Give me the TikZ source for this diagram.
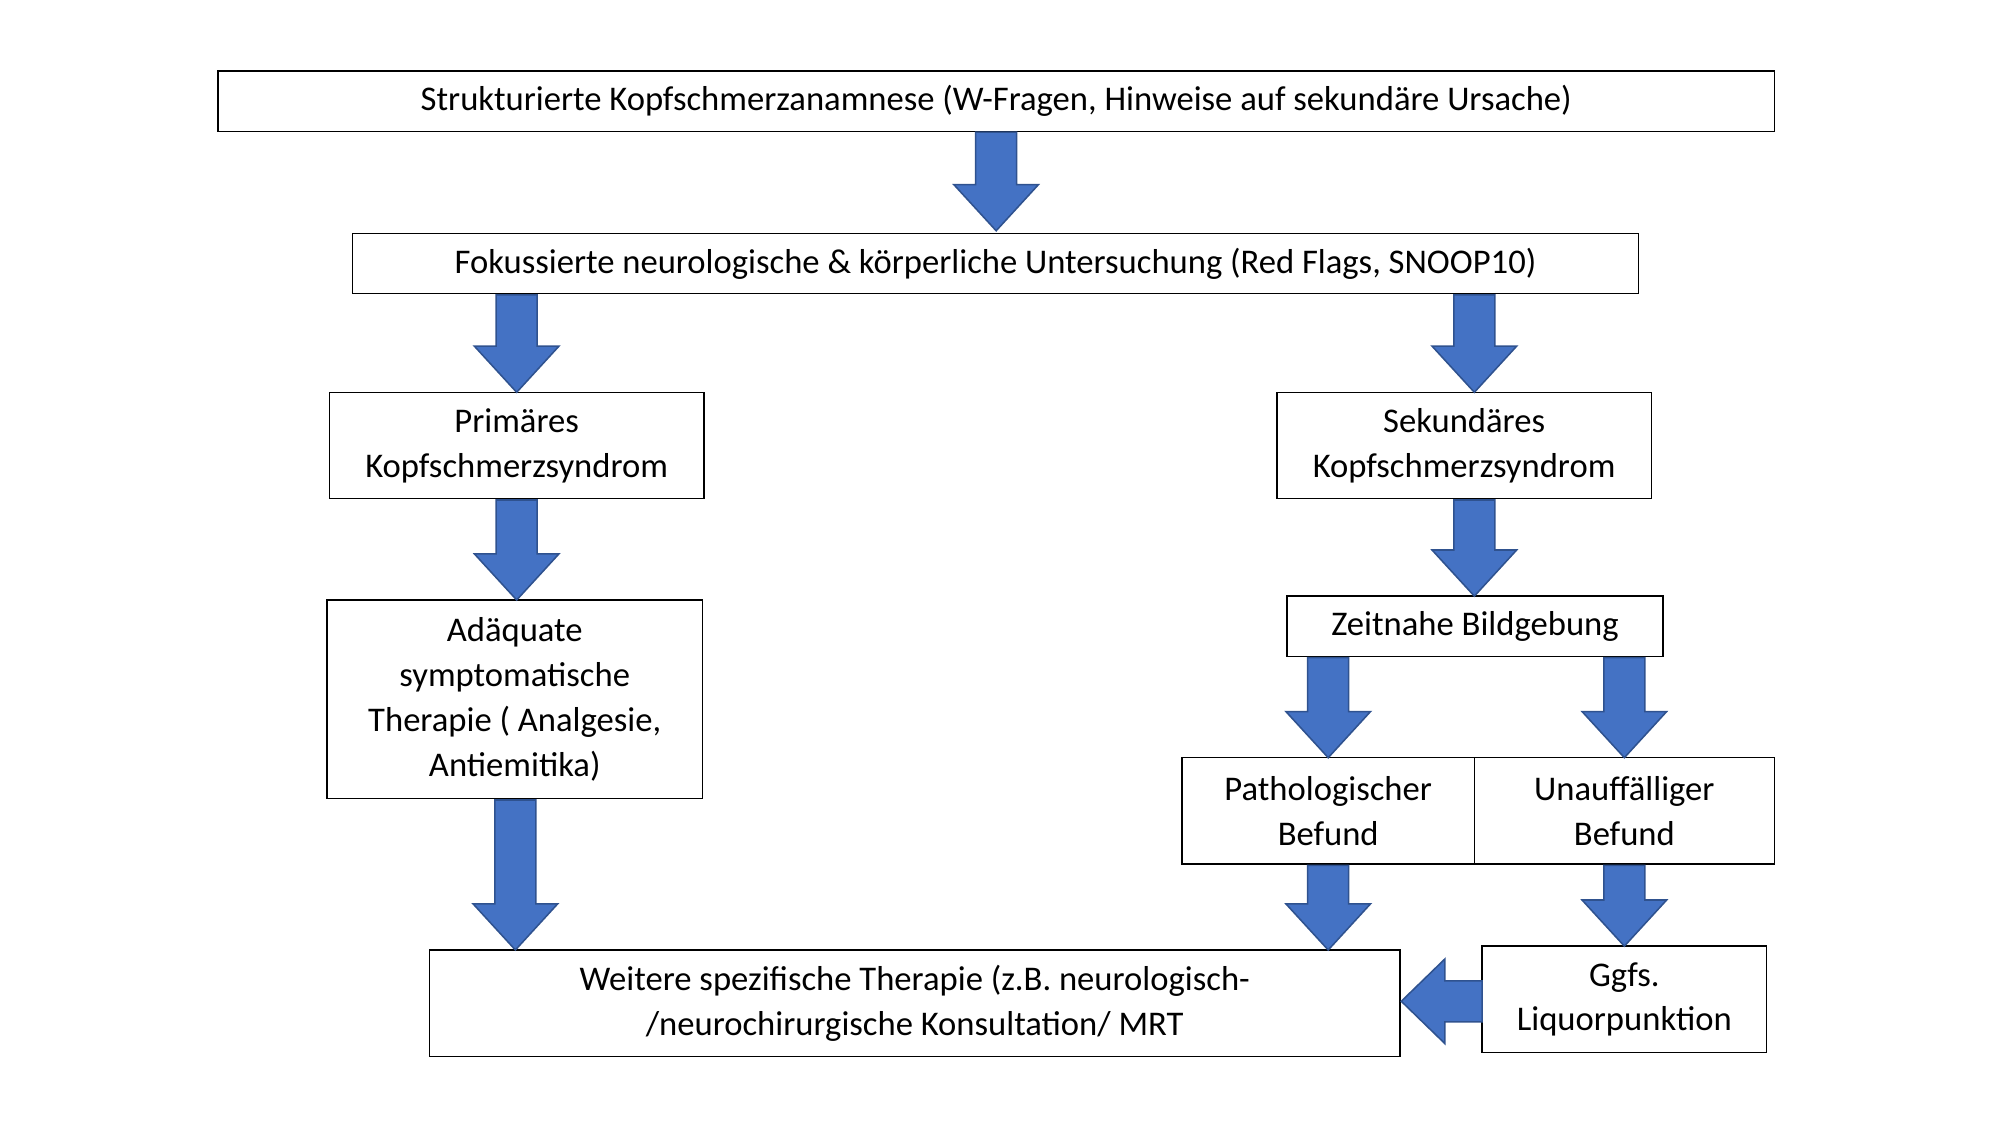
\documentclass[tikz,border=0pt]{standalone}
\usepackage{fontspec}
\setmainfont{Carlito}
\usetikzlibrary{calc}
\definecolor{ablue}{HTML}{4472C4}
\definecolor{aedge}{HTML}{2F528F}
\newcommand{\varr}[3]{% x, y1, y2
  \fill[ablue,draw=aedge,line width=0.6pt] (#1-16,#2) -- (#1+16,#2) -- (#1+16,#3-36) -- (#1+33,#3-36) -- (#1,#3) -- (#1-33,#3-36) -- (#1-16,#3-36) -- cycle;}
\begin{document}
\begin{tikzpicture}[x=0.5pt,y=-0.5pt,
  box/.style={draw=black,line width=0.6pt,fill=white,align=center,inner sep=0pt,font=\fontsize{13.5}{17.5}\selectfont}]
\useasboundingbox (0,0) rectangle (1560,877.5);
\node[box,minimum width=607pt,minimum height=23.5pt] (a) at (777,79) {Strukturierte Kopfschmerzanamnese (W-Fragen, Hinweise auf sekundäre Ursache)};
\node[box,minimum width=501.5pt,minimum height=23.5pt] (b) at (776.5,205.5) {Fokussierte neurologische \& körperliche Untersuchung (Red Flags, SNOOP10)};
\node[box,minimum width=146pt,minimum height=41.5pt] (c) at (403,347.5) {Primäres\\Kopfschmerzsyndrom};
\node[box,minimum width=146pt,minimum height=41.5pt] (d) at (1142,347.5) {Sekundäres\\Kopfschmerzsyndrom};
\node[box,minimum width=146.5pt,minimum height=77.5pt] (e) at (401.5,545.5) {Adäquate\\symptomatische\\Therapie ( Analgesie,\\Antiemitika)};
\node[box,minimum width=146.5pt,minimum height=23.5pt] (f) at (1150.5,488.5) {Zeitnahe Bildgebung};
\node[box,minimum width=114pt,minimum height=41.5pt] (g) at (1036,632.5) {Pathologischer\\Befund};
\node[box,minimum width=117pt,minimum height=41.5pt] (h) at (1267,632.5) {Unauffälliger\\Befund};
\node[box,minimum width=378.5pt,minimum height=41.5pt] (i) at (713.5,782.5) {Weitere spezifische Therapie (z.B. neurologisch-\\/neurochirurgische Konsultation/ MRT};
\node[box,minimum width=111pt,minimum height=41.5pt] (j) at (1267,779.5) {Ggfs.\\Liquorpunktion};
\varr{777}{103}{180}
\varr{403}{230}{306}
\varr{1150}{230}{306}
\varr{403}{390}{468}
\varr{1150}{390}{465}
\varr{402}{624}{741}
\varr{1036}{513}{591}
\varr{1267}{513}{591}
\varr{1036}{675}{741}
\varr{1267}{675}{738}
\fill[ablue,draw=aedge,line width=0.6pt] (1156,765) -- (1156,797) -- (1127,797) -- (1127,814) -- (1093,781) -- (1127,748) -- (1127,765) -- cycle;
\end{tikzpicture}
\end{document}
